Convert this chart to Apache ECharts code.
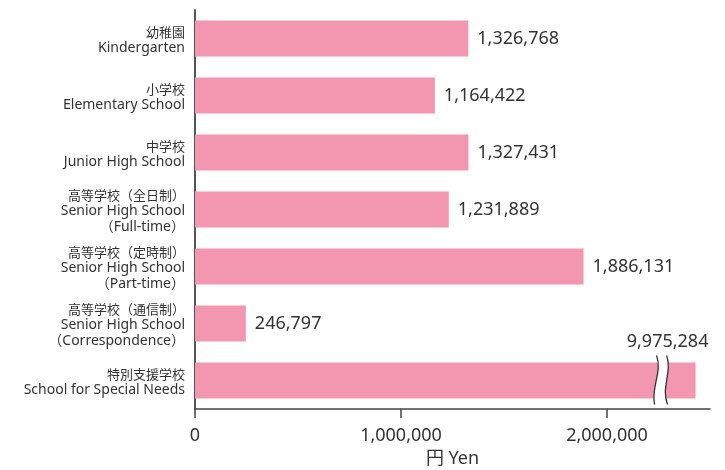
<!DOCTYPE html>
<html>
<head>
<meta charset="utf-8">
<script src="https://cdn.jsdelivr.net/npm/echarts@6/dist/echarts.min.js"></script>
<style>
html,body{margin:0;padding:0;background:#fff;}
#chart{width:725px;height:470px;}
</style>
</head>
<body>
<div id="chart"></div>
<script>
// ---- data ----
var categoriesJa = ['幼稚園', '小学校', '中学校', '高等学校（全日制）', '高等学校（定時制）', '高等学校（通信制）', '特別支援学校'];
var categoriesEn = ['Kindergarten', 'Elementary School', 'Junior High School', 'Senior High School\n（Full-time）', 'Senior High School\n（Part-time）', 'Senior High School\n（Correspondence）', 'School for Special Needs'];
var values = [1326768, 1164422, 1327431, 1231889, 1886131, 246797, 9975284];
var tickValues = [0, 1000000, 2000000];
var axisMax = 2500000;
var barCap = 2430000;      // displayed length of the broken bar
var breakAt = 2265000;     // where the break symbol sits
var axisName = '円 Yen';

function fmt(v){ return String(v).replace(/\B(?=(\d{3})+(?!\d))/g, ','); }

var FONT = '"Noto Sans", "Noto Sans CJK JP", sans-serif';
var FONT_JA = '"Noto Sans CJK JP", "Noto Sans", sans-serif';
var TXT = '#333';

var categories = categoriesJa.map(function(j, i){
  var lines = categoriesEn[i].split('\n').length + 1;
  return { value: j + '\n' + categoriesEn[i], textStyle: { padding: [lines > 2 ? 4 : 3, 0, 0, 0] } };
});

var barData = values.map(function(v){
  if (v > barCap) return { value: barCap, label: { show: false } };
  return v;
});
var brokenIdx = [];
values.forEach(function(v, i){ if (v > barCap) brokenIdx.push([breakAt, i, v]); });

var chart = echarts.init(document.getElementById('chart'), null, {renderer: 'canvas'});
chart.setOption({
  animation: false,
  backgroundColor: '#fff',
  textStyle: { fontFamily: FONT },
  grid: { left: 195, right: 15, top: 10, bottom: 61, outerBoundsMode: 'none', containLabel: false },
  xAxis: {
    type: 'value', min: 0, max: axisMax, interval: 1000000,
    name: axisName, nameLocation: 'middle', nameGap: 36,
    nameTextStyle: { color: TXT, fontSize: 18, fontFamily: FONT },
    axisLine: { show: true, lineStyle: { color: '#444', width: 1.5 } },
    axisTick: { show: true, length: 9, customValues: tickValues, lineStyle: { color: '#444', width: 1.5 } },
    axisLabel: { customValues: tickValues, color: TXT, fontSize: 18, margin: 18, fontFamily: FONT, formatter: function(v){ return fmt(v); } },
    splitLine: { show: false }
  },
  yAxis: {
    type: 'category', data: categories, inverse: true,
    axisLine: { show: true, lineStyle: { color: '#555', width: 2 } },
    axisTick: { show: false },
    axisLabel: {
      color: TXT, margin: 10, align: 'right',
      formatter: function(v, i){
        var en = categoriesEn[i].split('\n').map(function(s){ return '{en|' + s + '}'; }).join('\n');
        return '{ja|' + categoriesJa[i] + '}\n' + en;
      },
      rich: {
        ja: { fontSize: 13, lineHeight: 16, fontFamily: FONT_JA, color: TXT },
        en: { fontSize: 14, lineHeight: 16, fontFamily: FONT, color: TXT }
      }
    }
  },
  series: [{
    type: 'bar', data: barData, barWidth: 36,
    itemStyle: { color: '#f397b1' },
    label: {
      show: true, position: 'right', distance: 9, color: TXT, fontSize: 18, fontFamily: FONT,
      formatter: function(p){ return fmt(values[p.dataIndex]); }
    },
    z: 2
  }, {
    type: 'custom', data: brokenIdx, z: 5,
    encode: { x: 0, y: 1 },
    renderItem: function(params, api){
      var p = api.coord([api.value(0), api.value(1)]);
      var x = p[0], cy = p[1];
      var top = cy - 25, bot = cy + 24;
      var l = x - 5, r = x + 5;
      var d = 6, q = 16;
      var leftPath = 'M' + l + ',' + top + ' C' + (l + d) + ',' + (top + q) + ' ' + (l - d) + ',' + (bot - q) + ' ' + (l - 2) + ',' + bot;
      var rightPath = 'M' + r + ',' + top + ' C' + (r + d) + ',' + (top + q) + ' ' + (r - d) + ',' + (bot - q) + ' ' + (r + 1) + ',' + bot;
      var fillPath = 'M' + l + ',' + top + ' C' + (l + d) + ',' + (top + q) + ' ' + (l - d) + ',' + (bot - q) + ' ' + (l - 2) + ',' + bot +
        ' L' + (r + 1) + ',' + bot + ' C' + (r - d) + ',' + (bot - q) + ' ' + (r + d) + ',' + (top + q) + ' ' + r + ',' + top + ' Z';
      return {
        type: 'group',
        children: [
          { type: 'path', shape: { pathData: fillPath }, style: { fill: '#fff', stroke: null } },
          { type: 'path', shape: { pathData: leftPath }, style: { fill: null, stroke: '#333', lineWidth: 1.3 } },
          { type: 'path', shape: { pathData: rightPath }, style: { fill: null, stroke: '#333', lineWidth: 1.3 } },
          { type: 'text', style: { x: x + 6, y: cy - 39, text: fmt(api.value(2)), fill: TXT, font: '18px ' + FONT, align: 'center', verticalAlign: 'middle' } }
        ]
      };
    }
  }]
});
</script>
</body>
</html>
